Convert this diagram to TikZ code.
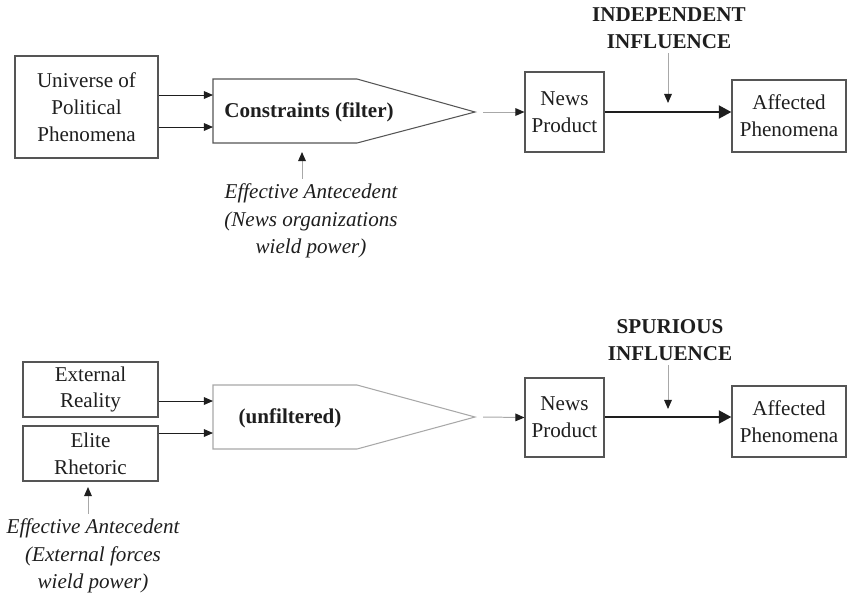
\documentclass[tikz,border=0pt]{standalone}
\usepackage{fontspec}
\setmainfont{Liberation Serif}
\usepackage{xcolor}
\usepackage{tikz}
\usetikzlibrary{calc,arrows.meta}
\definecolor{ink}{HTML}{1E1E1E}
\definecolor{frame}{HTML}{555555}
\definecolor{faint}{HTML}{A8A8A8}
\tikzset{
  box/.style={draw=frame, line width=0.75pt, inner sep=0pt, align=center, text=ink,
    font=\fontsize{15}{19}\selectfont},
  line/.style={draw=frame, line width=0.75pt},
  arr/.style={draw=ink, line width=0.7pt, -{Triangle[length=6.5pt,width=5.5pt]}},
  farr/.style={draw=faint, line width=0.7pt, -{Triangle[length=6.5pt,width=5.5pt,color=ink]}},
  bigarr/.style={draw=ink, line width=2.1pt, -{Triangle[length=9pt,width=9pt]}},
  lbl/.style={text=ink, align=center, font=\fontsize{15}{19}\selectfont},
  blbl/.style={text=ink, align=center, font=\fontsize{15}{19}\selectfont\bfseries},
  ilbl/.style={text=ink, align=center, font=\fontsize{15}{19.5}\selectfont\itshape}
}

\begin{document}
\begin{tikzpicture}[x=0.025cm, y=-0.025cm]
  \useasboundingbox (0,0) rectangle (848,595);

  % ---- top: independent influence
  \coordinate (fNW) at (213,79);
  \coordinate (fNE) at (357,79);
  \coordinate (ftip) at (475,112);
  \coordinate (fSE) at (357,143);
  \coordinate (fSW) at (213,143);
  \coordinate (fin1) at (213,95);
  \coordinate (fin2) at (213,127);
  \coordinate (fbot) at (302,152);
  \coordinate (ihit) at (668,103);

  \node[box, minimum width=3.575cm, minimum height=2.55cm] (univ) at (86.5,107)
    {Universe of\\Political\\Phenomena};
  \draw[line] (fNW)--(fNE)--(ftip)--(fSE)--(fSW)--cycle;
  \node[blbl] (filt) at (309,112) {Constraints (filter)};
  \node[box, minimum width=1.975cm, minimum height=2cm] (news1) at (564.5,112) {News\\Product};
  \node[box, minimum width=2.85cm, minimum height=1.8cm] (aff1) at (789,116) {Affected\\Phenomena};
  \node[blbl] (indep) at (669,28) {INDEPENDENT\\INFLUENCE};
  \node[ilbl] (eff1) at (311,221) {Effective Antecedent\\(News organizations\\wield power)};

  \draw[arr] (univ.east |- fin1) -- (fin1);
  \draw[arr] (univ.east |- fin2) -- (fin2);
  \draw[farr] ([xshift=0.2cm]ftip) -- (news1.west);
  \draw[bigarr] (news1.east) -- (news1.east -| aff1.west);
  \draw[farr] (indep.south -| ihit) -- (ihit);
  \draw[farr] (eff1.north -| fbot) -- (fbot);

  % ---- bottom: spurious influence
  \coordinate (uNW) at (213,385);
  \coordinate (uNE) at (357,385);
  \coordinate (utip) at (475,417);
  \coordinate (uSE) at (357,449);
  \coordinate (uSW) at (213,449);
  \coordinate (uin1) at (213,401);
  \coordinate (uin2) at (213,433);
  \coordinate (sbot) at (88,487);
  \coordinate (shit) at (668,409);

  \node[box, minimum width=3.375cm, minimum height=1.375cm] (ext) at (90.5,389.5) {External\\Reality};
  \node[box, minimum width=3.375cm, minimum height=1.375cm] (elite) at (90.5,453.5) {Elite\\Rhetoric};
  \draw[draw=faint, line width=0.75pt] (uNW)--(uNE)--(utip)--(uSE)--(uSW)--cycle;
  \node[blbl] (unfilt) at (290,418) {(unfiltered)};
  \node[box, minimum width=1.975cm, minimum height=1.975cm] (news2) at (564.5,417.5) {News\\Product};
  \node[box, minimum width=2.85cm, minimum height=1.775cm] (aff2) at (789,421.5) {Affected\\Phenomena};
  \node[blbl] (spur) at (670,340) {SPURIOUS\\INFLUENCE};
  \node[ilbl] (eff2) at (93,556) {Effective Antecedent\\(External forces\\wield power)};

  \draw[arr] (ext.east |- uin1) -- (uin1);
  \draw[arr] (elite.east |- uin2) -- (uin2);
  \draw[farr] ([xshift=0.2cm]utip) -- (news2.west);
  \draw[bigarr] (news2.east |- utip) -- (aff2.west |- utip);
  \draw[farr] (spur.south -| shit) -- (shit);
  \draw[farr] (eff2.north -| sbot) -- (sbot);
\end{tikzpicture}
\end{document}
